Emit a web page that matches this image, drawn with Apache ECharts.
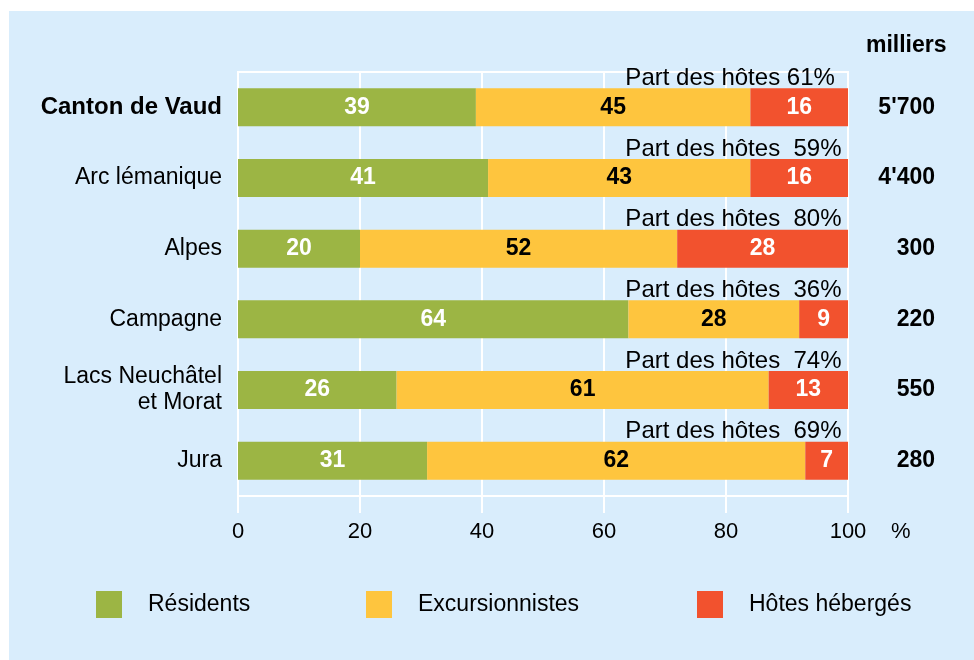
<!DOCTYPE html>
<html>
<head>
<meta charset="utf-8">
<script src="https://cdn.jsdelivr.net/npm/echarts@6/dist/echarts.min.js"></script>
<style>
  html, body { margin: 0; padding: 0; background: #fff; }
  #wrap { position: relative; width: 974px; height: 660px; }
  #panel { position: absolute; left: 9px; top: 11px; right: 0; bottom: 0; background: #d9edfc; }
  #chart { position: absolute; left: 0; top: 0; width: 974px; height: 660px; }
</style>
</head>
<body>
<div id="wrap">
  <div id="panel"></div>
  <div id="chart"></div>
</div>
<script>
var categories = ['Canton de Vaud', 'Arc lémanique', 'Alpes', 'Campagne', 'Lacs Neuchâtel\net Morat', 'Jura'];
var residents = [39, 41, 20, 64, 26, 31];
var excursionnistes = [45, 43, 52, 28, 61, 62];
var hotes = [16, 16, 28, 9, 13, 7];
var partHotes = [61, 59, 80, 36, 74, 69];
var totals = [5700, 4400, 300, 220, 550, 280];
var xTicks = [0, 20, 40, 60, 80, 100];

var green = '#9cb544';
var yellow = '#fec53e';
var red = '#f2522e';
var font = 'Liberation Sans, Arial, sans-serif';

function fmtThousands(v) {
    return String(v).replace(/\B(?=(\d{3})+(?!\d))/g, "'");
}

var myChart = echarts.init(document.getElementById('chart'));

function barLabel(color) {
    return {
        show: true,
        position: 'inside',
        color: color,
        fontSize: 23,
        fontWeight: 'bold',
        fontFamily: font
    };
}

function legendItem(name, left) {
    return {
        data: [name],
        left: left,
        top: 591,
        padding: 0,
        icon: 'rect',
        itemWidth: 26,
        itemHeight: 27,
        selectedMode: false,
        textStyle: { fontSize: 23, color: '#000', fontFamily: font, padding: [0, 0, 0, 21] }
    };
}

var option = {
    backgroundColor: 'transparent',
    animation: false,
    textStyle: { fontFamily: font },
    grid: {
        left: 238,
        right: 126,
        top: 72,
        bottom: 164,
        show: true,
        borderColor: '#fff',
        borderWidth: 2,
        backgroundColor: 'transparent'
    },
    legend: [
        legendItem('Résidents', 96),
        legendItem('Excursionnistes', 366),
        legendItem('Hôtes hébergés', 697)
    ],
    xAxis: {
        type: 'value',
        min: 0,
        max: 100,
        interval: 20,
        axisLine: { show: true, lineStyle: { color: '#fff', width: 2 } },
        axisTick: { show: true, length: 17, lineStyle: { color: '#fff', width: 2 } },
        splitLine: { show: true, lineStyle: { color: '#fff', width: 2 } },
        axisLabel: {
            margin: 25,
            fontSize: 22,
            color: '#000',
            formatter: function (v) { return xTicks.indexOf(v) >= 0 ? String(v) : ''; }
        }
    },
    yAxis: [
        {
            type: 'category',
            inverse: true,
            data: categories,
            axisLine: { show: true, lineStyle: { color: '#fff', width: 2 } },
            axisTick: { show: false },
            axisLabel: {
                margin: 16,
                fontSize: 23,
                color: '#000',
                lineHeight: 26,
                formatter: function (v, i) {
                    return i === 0 ? '{b|' + v + '}' : v;
                },
                rich: {
                    b: { fontSize: 24, fontWeight: 'bold', color: '#000', fontFamily: font }
                }
            }
        },
        {
            type: 'category',
            inverse: true,
            position: 'right',
            data: totals.map(fmtThousands),
            axisLine: { show: false },
            axisTick: { show: false },
            splitLine: { show: false },
            axisLabel: {
                margin: 87,
                align: 'right',
                fontSize: 23,
                fontWeight: 'bold',
                color: '#000'
            }
        }
    ],
    graphic: [
        {
            type: 'text',
            left: 866,
            top: 34,
            style: { text: 'milliers', fontSize: 23, fontWeight: 'bold', fill: '#000', fontFamily: font }
        },
        {
            type: 'text',
            left: 891,
            top: 521,
            style: { text: '%', fontSize: 22, fill: '#000', fontFamily: font }
        }
    ],
    series: [
        {
            name: 'Résidents',
            type: 'bar',
            stack: 'total',
            barWidth: 38,
            itemStyle: { color: green },
            label: barLabel('#fff'),
            data: residents
        },
        {
            name: 'Excursionnistes',
            type: 'bar',
            stack: 'total',
            barWidth: 38,
            itemStyle: { color: yellow },
            label: barLabel('#000'),
            data: excursionnistes
        },
        {
            name: 'Hôtes hébergés',
            type: 'bar',
            stack: 'total',
            barWidth: 38,
            itemStyle: { color: red },
            label: barLabel('#fff'),
            data: hotes
        },
        {
            name: 'part',
            type: 'scatter',
            silent: true,
            symbolSize: 1,
            itemStyle: { color: 'transparent' },
            label: {
                show: true,
                position: 'left',
                distance: 6,
                offset: [0, -29],
                fontSize: 24,
                color: '#000',
                opacity: 1,
                fontFamily: font,
                formatter: function (p) {
                    var gap = p.dataIndex === 0 ? ' ' : '  ';
                    var tail = p.dataIndex === 0 ? ' ' : '';
                    return 'Part des hôtes' + gap + partHotes[p.dataIndex] + '%' + tail;
                }
            },
            data: categories.map(function (c) { return [100, c]; })
        }
    ]
};

myChart.setOption(option);
</script>
</body>
</html>
